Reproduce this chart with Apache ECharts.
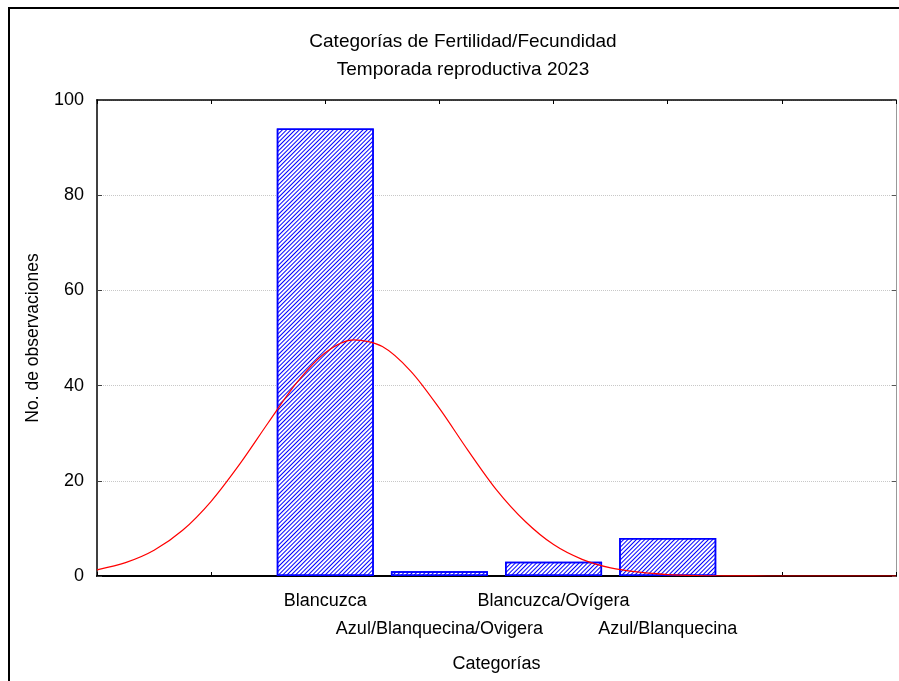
<!DOCTYPE html>
<html>
<head>
<meta charset="utf-8">
<script src="https://cdn.jsdelivr.net/npm/echarts@6/dist/echarts.min.js"></script>
<style>
html,body{margin:0;padding:0;background:#fff;}
#chart{width:899px;height:681px;}
</style>
</head>
<body>
<div id="chart"></div>
<script>
// ---- data ----
const titleLines = ['Categorías de Fertilidad/Fecundidad', 'Temporada reproductiva 2023'];
const categories = ['Blancuzca', 'Azul/Blanquecina/Ovigera', 'Blancuzca/Ovígera', 'Azul/Blanquecina'];
const counts = [94, 1, 3, 8];
const categoryOffset = 2; // first category sits at axis position 2
const yTicks = [0, 20, 40, 60, 80, 100];
// fitted normal curve
const curveX = [0, 0.25, 0.5, 0.75, 1, 1.25, 1.5, 1.75, 2, 2.25, 2.5, 2.75, 3, 3.25, 3.5, 3.75, 4, 4.25, 4.5, 4.75, 5, 5.25, 5.5, 5.75, 6, 6.25, 6.5, 6.75, 7];
const curveY = [1.3, 2.8, 5.4, 9.6, 15.7, 23.5, 32.2, 40.6, 46.9, 49.6, 48.2, 43.0, 35.2, 26.4, 18.1, 11.5, 6.6, 3.5, 1.7, 0.8, 0.3, 0.1, 0.04, 0.01, 0, 0, 0, 0, 0];

const FONT = '"Liberation Sans", Arial, sans-serif';
const chart = echarts.init(document.getElementById('chart'), null, {renderer: 'canvas'});

const barData = categories.map((c, i) => [i + categoryOffset, counts[i]]);
const curveData = curveX.map((x, i) => [x, curveY[i]]);

const option = {
  backgroundColor: '#fff',
  animation: false,
  title: {
    text: titleLines.join('\n'),
    left: 458,
    top: 23,
    textAlign: 'center',
    textStyle: {fontFamily: FONT, fontSize: 19, fontWeight: 'normal', color: '#000', lineHeight: 28}
  },
  graphic: [{
    type: 'rect',
    shape: {x: 9, y: 8, width: 1000, height: 1000},
    style: {fill: 'none', stroke: '#000', lineWidth: 2},
    silent: true
  }],
  grid: {left: 97, right: 1, top: 100, bottom: 105, containLabel: false},
  xAxis: [{
    type: 'value', min: 0, max: 7, interval: 1, position: 'bottom',
    name: 'Categorías', nameLocation: 'middle', nameGap: 79,
    nameTextStyle: {fontFamily: FONT, fontSize: 18, color: '#000'},
    axisLine: {show: true, onZero: false, lineStyle: {color: '#000', width: 2}},
    axisTick: {show: true, inside: true, length: 4, lineStyle: {color: '#000', width: 1}},
    splitLine: {show: false},
    axisLabel: {
      margin: 11,
      fontFamily: FONT, fontSize: 18, color: '#000', lineHeight: 28,
      formatter: function (v) {
        const idx = Math.round(v) - categoryOffset;
        if (idx < 0 || idx >= categories.length) return '';
        return idx % 2 === 0 ? categories[idx] : '\n' + categories[idx];
      }
    }
  }, {
    type: 'value', min: 0, max: 7, interval: 1, position: 'top',
    axisLine: {show: true, onZero: false, lineStyle: {color: '#000', width: 1.5}},
    axisTick: {show: true, inside: true, length: 4, lineStyle: {color: '#000', width: 1}},
    axisLabel: {show: false},
    splitLine: {show: false}
  }],
  yAxis: [{
    type: 'value', min: yTicks[0], max: yTicks[yTicks.length - 1], interval: yTicks[1] - yTicks[0], position: 'left',
    name: 'No. de observaciones', nameLocation: 'middle', nameGap: 55, nameRotate: 90,
    nameTextStyle: {fontFamily: FONT, fontSize: 17.5, color: '#000'},
    axisLine: {show: true, onZero: false, lineStyle: {color: '#404040', width: 2}},
    axisTick: {show: true, inside: true, length: 5, lineStyle: {color: '#404040', width: 1}},
    axisLabel: {margin: 13, fontFamily: FONT, fontSize: 18, color: '#000'},
    splitLine: {show: true, lineStyle: {color: '#c8c8c8', width: 1, type: [1, 1]}}
  }, {
    type: 'value', min: yTicks[0], max: yTicks[yTicks.length - 1], interval: yTicks[1] - yTicks[0], position: 'right',
    axisLine: {show: true, onZero: false, lineStyle: {color: '#999', width: 1}},
    axisTick: {show: true, inside: true, length: 4, lineStyle: {color: '#555', width: 1}},
    axisLabel: {show: false},
    splitLine: {show: false}
  }],
  series: [{
    type: 'bar',
    xAxisIndex: 0, yAxisIndex: 0,
    data: barData,
    barWidth: 97,
    itemStyle: {
      color: '#ffffff',
      borderColor: '#0000ff',
      borderWidth: 1.5,
      decal: {
        symbol: 'rect',
        color: '#0000ff',
        dashArrayX: [1, 0],
        dashArrayY: [1, 2],
        rotation: -Math.PI / 4
      }
    },
    z: 2
  }, {
    type: 'line',
    xAxisIndex: 0, yAxisIndex: 0,
    data: curveData,
    smooth: 0.3,
    symbol: 'none',
    lineStyle: {color: '#ff0000', width: 1.2},
    z: 5
  }]
};
chart.setOption(option);
</script>
</body>
</html>
